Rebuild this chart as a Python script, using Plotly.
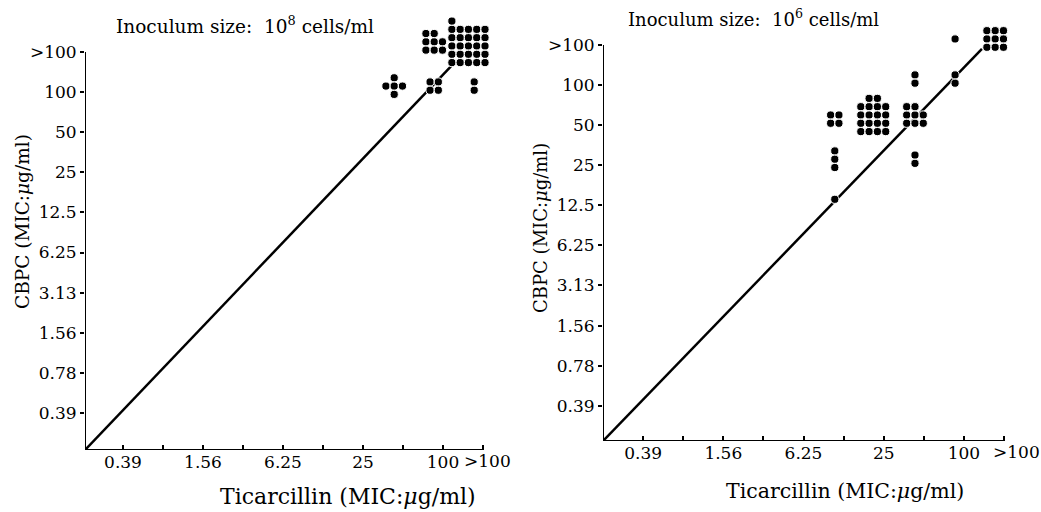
import plotly.graph_objects as go

# ---------------- data ----------------
levels = ['0.39', '0.78', '1.56', '3.13', '6.25', '12.5', '25', '50', '100', '>100']
x_labelled = ['0.39', '1.56', '6.25', '25', '100']

# Left panel: inoculum size 10^8 cells/ml  (Ticarcillin MIC, CBPC MIC, number of strains)
left_x = ['50', '100', '>100', '100', '>100']
left_y = ['100', '100', '100', '>100', '>100']
left_n = [5, 4, 2, 8, 26]

# Right panel: inoculum size 10^6 cells/ml
right_x = ['12.5', '12.5', '12.5', '25', '50', '50', '50', '100', '100', '>100']
right_y = ['50', '25', '12.5', '50', '50', '100', '25', '>100', '100', '>100']
right_n = [4, 3, 1, 18, 8, 2, 2, 1, 2, 9]

# reference diagonal (axis origin -> upper right), in level-index units
left_line_x = [0.05, 9.3]
left_line_y = [0.075, 9.75]
right_line_x = [0.0, 9.45]
right_line_y = [0.12, 9.9]

# ---------------- cluster layout (style only) ----------------
left_shape = [('cross', 3), ('center', 2), ('center', 1), ('left', 3), ('left', 5)]
right_shape = [('center', 2), ('center', 1), ('center', 1), ('center', 4), ('left', 3),
               ('center', 1), ('center', 1), ('center', 1), ('center', 1), ('center', 3)]
STEP = 0.207
XOFF, YOFF = -0.22, 0.15


def idx(label):
    return levels.index(label) + 1


def cluster(xl, yl, n, shape):
    align, ncols = shape
    cx0, cy0 = idx(xl), idx(yl)
    if align == 'cross':
        offs = [(0, 1), (-1, 0), (0, 0), (1, 0), (0, -1)][:n]
        cx, cy = cx0 + XOFF, cy0 + YOFF
        return [cx + a * STEP for a, b in offs], [cy + b * STEP for a, b in offs]
    full, rem = divmod(n, ncols)
    half = (ncols - 1) / 2 * STEP
    cx = min(cx0 + XOFF, cx0 + 0.05 - half)
    cy = cy0 + YOFF
    xs, ys = [], []
    for r in range(full):
        yy = cy + ((full - 1) / 2 - r) * STEP
        for c in range(ncols):
            xs.append(cx + (c - (ncols - 1) / 2) * STEP)
            ys.append(yy)
    if rem:
        yy = cy + ((full - 1) / 2 + 1) * STEP if full else cy
        start = 0 if align == 'left' else (ncols - rem) / 2
        for c in range(rem):
            xs.append(cx + (start + c - (ncols - 1) / 2) * STEP)
            ys.append(yy)
    return xs, ys


def all_dots(xl, yl, ns, shapes):
    X, Y = [], []
    for a, b, n, s in zip(xl, yl, ns, shapes):
        xs, ys = cluster(a, b, n, s)
        X += xs
        Y += ys
    return X, Y


FONT = 'DejaVu Serif'
fig = go.Figure()

for (lx, ly, xa, ya) in [(left_line_x, left_line_y, 'x', 'y'), (right_line_x, right_line_y, 'x2', 'y2')]:
    fig.add_trace(go.Scatter(x=lx, y=ly, mode='lines', xaxis=xa, yaxis=ya,
                             line=dict(color='black', width=2.5), showlegend=False,
                             hoverinfo='skip'))

for (xl, yl, ns, sh, xa, ya) in [(left_x, left_y, left_n, left_shape, 'x', 'y'),
                                 (right_x, right_y, right_n, right_shape, 'x2', 'y2')]:
    X, Y = all_dots(xl, yl, ns, sh)
    fig.add_trace(go.Scatter(x=X, y=Y, mode='markers', xaxis=xa, yaxis=ya, cliponaxis=False,
                             marker=dict(color='black', size=8.2, line=dict(color='white', width=1)),
                             showlegend=False))

major = [idx(l) for l in x_labelled]
minor = [i for i in range(1, 11) if i not in major]

common_x = dict(tickmode='array', tickvals=major, ticktext=x_labelled, ticks='inside',
                ticklen=5, tickwidth=1.5, tickcolor='black', showline=False,
                showgrid=False, zeroline=False,
                minor=dict(tickmode='array', tickvals=minor, ticks='inside', ticklen=5,
                           tickwidth=1.5, tickcolor='black', showgrid=False),
                tickfont=dict(family=FONT, size=17, color='black'))
common_y = dict(tickmode='array', tickvals=list(range(1, 11)), ticktext=levels, ticks='outside',
                ticklen=4, tickwidth=1.5, tickcolor='black', showline=False,
                showgrid=False, zeroline=False,
                tickfont=dict(family=FONT, size=17, color='black'))

W, H = 1041, 512
# panel geometry: (x0 index, y0 index, x range end, y range end)
LX0, LY0, RX0, RY0 = 0.05, 0.075, 0.0, 0.12
XEND, YEND = 10.5, 11.0
fig.update_layout(
    width=W, height=H, margin=dict(l=0, r=0, t=0, b=0),
    paper_bgcolor='white', plot_bgcolor='rgba(0,0,0,0)',
    xaxis=dict(domain=[85 / W, (83 + 40 * XEND) / W], range=[LX0, XEND], anchor='y', **common_x),
    yaxis=dict(domain=[(H - 450) / H, (H - (453 - 40.1 * YEND)) / H], range=[LY0, YEND],
               anchor='x', **common_y),
    xaxis2=dict(domain=[603 / W, (603 + 40.1 * XEND) / W], range=[RX0, XEND], anchor='y2', **common_x),
    yaxis2=dict(domain=[(H - 441) / H, (H - (446 - 40.1 * YEND)) / H], range=[RY0, YEND],
                anchor='x2', **common_y),
)

# axis lines ending at the ">100" ticks
shapes = []
for xr, yr, x0, y0 in [('x', 'y', LX0, LY0), ('x2', 'y2', RX0, RY0)]:
    shapes.append(dict(type='line', xref=xr, yref=yr, x0=x0, y0=y0, x1=10, y1=y0,
                       line=dict(color='black', width=2)))
    shapes.append(dict(type='line', xref=xr, yref=yr, x0=x0, y0=y0, x1=x0, y1=10,
                       line=dict(color='black', width=2)))
fig.update_layout(shapes=shapes)

ann = []


def px_ann(text, x, y, size, angle=0):
    ann.append(dict(text=text, x=x / W, y=1 - y / H, xref='paper', yref='paper', showarrow=False,
                    xanchor='center', yanchor='middle', textangle=angle,
                    font=dict(family=FONT, size=size, color='black')))


px_ann('Inoculum size:  10<sup>8</sup> cells/ml', 245, 25, 18.5)
px_ann('Inoculum size:  10<sup>6</sup> cells/ml', 753, 18, 18)
px_ann('Ticarcillin (MIC:<i>μ</i>g/ml)', 348, 496, 22)
px_ann('Ticarcillin (MIC:<i>μ</i>g/ml)', 845, 491, 20.5)
px_ann('CBPC (MIC:<i>μ</i>g/ml)', 22, 222, 18.5, angle=-90)
px_ann('CBPC (MIC:<i>μ</i>g/ml)', 540, 228, 18, angle=-90)
px_ann('&gt;100', 487, 461, 17)
px_ann('&gt;100', 1016, 452, 17)
fig.update_layout(annotations=ann)

fig.write_html('out.html')
